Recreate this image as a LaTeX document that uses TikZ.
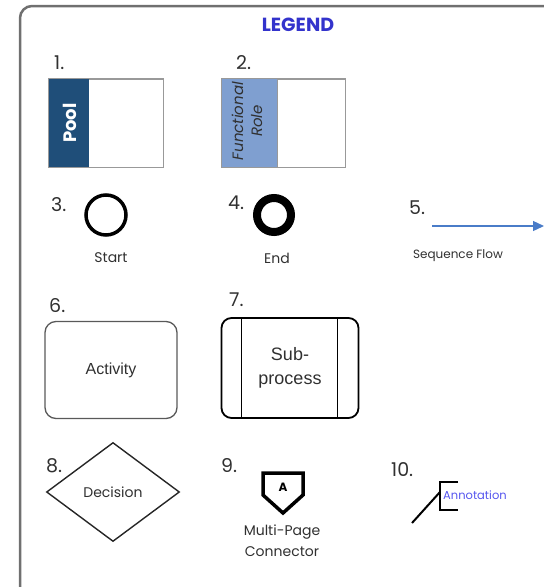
\documentclass[tikz,border=0pt]{standalone}
\usepackage{fontspec}
\setmainfont{Poppins}
\newfontfamily\arialfont{Liberation Sans}
\usetikzlibrary{arrows.meta,shapes.geometric}
\definecolor{poolblue}{HTML}{1F4E79}
\definecolor{roleblue}{HTML}{7F9FD0}
\definecolor{flowblue}{HTML}{4A7CC8}
\definecolor{legendblue}{HTML}{3333CC}
\definecolor{annblue}{HTML}{5555EE}
\definecolor{framegray}{HTML}{707070}
\definecolor{txtgray}{HTML}{303030}
\tikzset{
  num/.style={anchor=west, text=txtgray, font=\fontsize{19}{21}\selectfont, inner sep=0pt},
  lbl/.style={text=txtgray, font=\fontsize{14}{16}\selectfont, inner sep=0pt},
  lane/.style={draw=gray!80, line width=1pt, minimum width=114pt, minimum height=88pt, inner sep=0pt},
}
\begin{document}
\begin{tikzpicture}[x=1pt,y=-1pt]
\useasboundingbox (0,0) rectangle (544,587);
\clip (0,0) rectangle (544,587);
\draw[framegray, line width=2.5pt, rounded corners=12pt] (20,6) rectangle (580,600);
\node (title) [text=legendblue, font=\bfseries\fontsize{19}{21}\selectfont] at (298,25) {LEGEND};

% 1 Pool
\node (n1) [num] at (54,63) {1.};
\node (pool) [lane] at (106,123) {};
\fill[poolblue] (pool.north west) rectangle ([xshift=40pt]pool.south west);
\draw[gray!80, line width=1pt] (pool.north west) rectangle (pool.south east);
\node (pooltxt) [rotate=90, text=white, font=\bfseries\fontsize{18}{20}\selectfont] at (70,123) {Pool};

% 2 Functional role
\node (n2) [num] at (236,63) {2.};
\node (role) [lane, minimum width=123pt] at (283.5,123) {};
\fill[roleblue] (role.north west) rectangle ([xshift=56pt]role.south west);
\draw[gray!80, line width=1pt] (role.north west) rectangle (role.south east);
\draw[gray!80, line width=0.8pt] ([xshift=56pt]role.north west) -- ([xshift=56pt]role.south west);
\node (roletxt) [rotate=90, align=center, text=txtgray, font=\itshape\fontsize{15}{19}\selectfont] at (247,121) {Functional\\Role};

% 3 Start
\node (n3) [num] at (51,205) {3.};
\node (start) [circle, draw, line width=3.5pt, minimum size=40pt, inner sep=0pt] at (106,215) {};
\node (starttxt) [lbl] at (111,258) {Start};

% 4 End
\node (n4) [num] at (228,203) {4.};
\node (end) [circle, draw, line width=8pt, minimum size=34pt, inner sep=0pt] at (274,215) {};
\node (endtxt) [lbl] at (277,258) {End};

% 5 Sequence flow
\node (n5) [num] at (409,208) {5.};
\coordinate (sfa) at (432,226);
\coordinate (sfb) at (544,226);
\draw[flowblue, line width=1.3pt, -{Triangle[length=11pt,width=10pt]}] (sfa) -- (sfb);
\node (sftxt) [lbl, font=\fontsize{12}{14}\selectfont] at (458,256) {Sequence Flow};

% 6 Activity
\node (n6) [num] at (49,306) {6.};
\node (act) [draw=gray!70!black, line width=1.3pt, rounded corners=11pt, minimum width=132pt, minimum height=97pt, text=txtgray, font=\arialfont\fontsize{16}{18}\selectfont] at (111,370) {Activity};

% 7 Sub-process
\node (n7) [num] at (229,300) {7.};
\node (sub) [draw, line width=1.8pt, rounded corners=10pt, minimum width=137pt, minimum height=100pt, align=center, text=txtgray, font=\arialfont\fontsize{18}{24}\selectfont] at (290,368) {Sub-\\process};
\draw[line width=1.5pt] ([xshift=21pt]sub.north west) -- ([xshift=21pt]sub.south west);
\draw[line width=1.5pt] ([xshift=-22pt]sub.north east) -- ([xshift=-22pt]sub.south east);

% 8 Decision
\node (n8) [num] at (46,466) {8.};
\node (dec) [diamond, draw=gray!30!black, line width=1.4pt, minimum width=133pt, minimum height=99pt, inner sep=0pt, text=txtgray, font=\fontsize{14}{16}\selectfont] at (113,492) {Decision};

% 9 Multi-page connector
\node (n9) [num] at (221,466) {9.};
\node (conA) [font=\bfseries\fontsize{12}{14}\selectfont, inner sep=0pt] at (283,487) {A};
\draw[line width=3.5pt, line join=miter] (263,473) -- (303,473) -- (303,495) -- (283,513) -- (263,495) -- cycle;
\node (contxt) [lbl, align=center, font=\fontsize{14}{21}\selectfont] at (282,541) {Multi-Page\\Connector};

% 10 Annotation
\node (n10) [num] at (391,470) {10.};
\node (ann) [anchor=west, text=annblue, font=\fontsize{11.5}{13}\selectfont, inner sep=0pt] at (443,495) {Annotation};
\coordinate (bra) at (458,482);
\coordinate (brb) at (458,510);
\draw[line width=2pt] (bra) -- (440,482) -- (440,510) -- (brb);
\coordinate (annfoot) at (412,523);
\draw[line width=2pt] (annfoot) -- (440,492);
\end{tikzpicture}
\end{document}
